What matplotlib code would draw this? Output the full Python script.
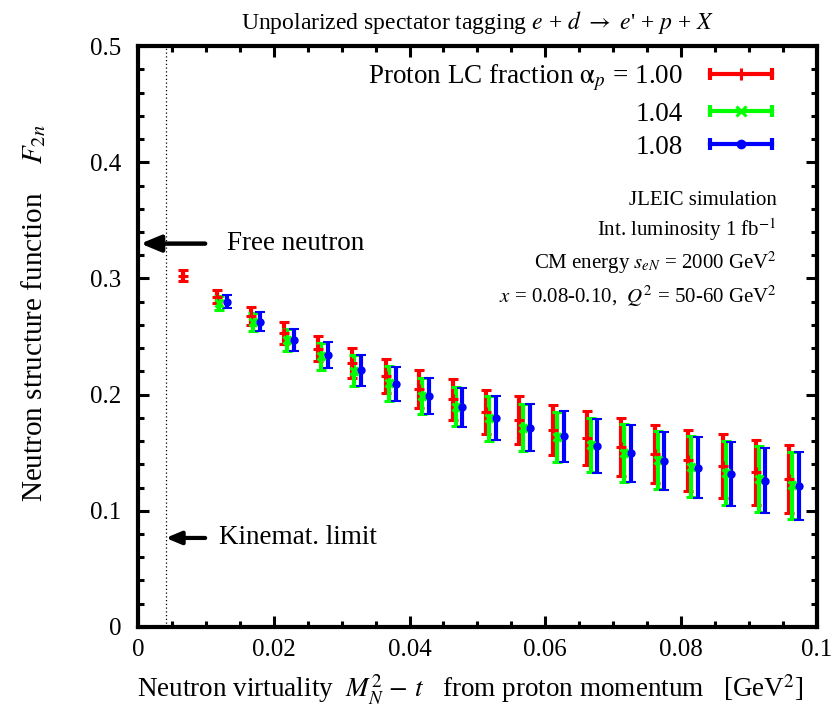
import matplotlib
matplotlib.use('Agg')
import matplotlib.pyplot as plt
from matplotlib.lines import Line2D
from matplotlib.legend_handler import HandlerLine2D
from matplotlib.ticker import MultipleLocator

plt.rcParams['font.family'] = ['Liberation Serif', 'DejaVu Serif']
plt.rcParams['mathtext.fontset'] = 'stix'

# data (F2n vs neutron virtuality), one set per alpha_p
red_x = [0.0067, 0.0117, 0.0166, 0.0215, 0.0265, 0.0316, 0.0365, 0.0414, 0.0464, 0.0512,
         0.0561, 0.0611, 0.0661, 0.0711, 0.0761, 0.0810, 0.0861, 0.0910, 0.0959]
red_y = [0.3025, 0.2843, 0.2678, 0.2530, 0.2397, 0.2272, 0.2160, 0.2048, 0.1960, 0.1853,
         0.1780, 0.1698, 0.1627, 0.1550, 0.1490, 0.1435, 0.1385, 0.1330, 0.1274]
red_e = [0.0045, 0.0055, 0.0076, 0.0093, 0.0108, 0.0129, 0.0143, 0.0163, 0.0175, 0.0190,
         0.0207, 0.0215, 0.0232, 0.0247, 0.0251, 0.0262, 0.0273, 0.0283, 0.0294]

green_x = [0.0120, 0.0170, 0.0220, 0.0270, 0.0318, 0.0370, 0.0419, 0.0468, 0.0517,
           0.0567, 0.0617, 0.0667, 0.0716, 0.0766, 0.0815, 0.0866, 0.0915, 0.0964]
green_y = [0.2788, 0.2625, 0.2470, 0.2330, 0.2207, 0.2096, 0.1988, 0.1896, 0.1795,
           0.1715, 0.1635, 0.1566, 0.1497, 0.1435, 0.1380, 0.1326, 0.1274, 0.1220]
green_e = [0.0057, 0.0079, 0.0098, 0.0115, 0.0133, 0.0148, 0.0159, 0.0169, 0.0192,
           0.0202, 0.0217, 0.0229, 0.0247, 0.0251, 0.0262, 0.0273, 0.0283, 0.0290]

blue_x = [0.0131, 0.0180, 0.0230, 0.0280, 0.0329, 0.0380, 0.0429, 0.0478, 0.0528,
          0.0577, 0.0627, 0.0676, 0.0726, 0.0775, 0.0825, 0.0874, 0.0924, 0.0973]
blue_y = [0.2800, 0.2628, 0.2470, 0.2340, 0.2210, 0.2090, 0.1988, 0.1890, 0.1797,
          0.1715, 0.1640, 0.1558, 0.1494, 0.1428, 0.1370, 0.1317, 0.1260, 0.1213]
blue_e = [0.0057, 0.0079, 0.0098, 0.0115, 0.0133, 0.0148, 0.0159, 0.0169, 0.0192,
          0.0202, 0.0217, 0.0229, 0.0247, 0.0251, 0.0262, 0.0273, 0.0283, 0.0290]

labels = [r'Proton LC fraction $\mathrm{\alpha}_p$ = 1.00', '1.04', '1.08']
x_ticks = [0, 0.02, 0.04, 0.06, 0.08, 0.1]
x_ticklabels = ['0', '0.02', '0.04', '0.06', '0.08', '0.1']
y_ticks = [0, 0.1, 0.2, 0.3, 0.4, 0.5]
y_ticklabels = ['0', '0.1', '0.2', '0.3', '0.4', '0.5']
free_neutron = 0.33
kin_limit = 0.0041

fig = plt.figure(figsize=(8.31, 7.1), dpi=100)
ax = fig.add_axes([0.166, 0.117, 0.817, 0.818])

series = [(red_x, red_y, red_e, '#ff0000', '+', 7, 2.2),
          (green_x, green_y, green_e, '#00ff00', 'x', 6, 2.2),
          (blue_x, blue_y, blue_e, '#0000ff', 'o', 4.5, 1.5)]

handles = []
hmap = {}
for xs, ys, es, c, m, ms, mw in series:
    ax.errorbar(xs, ys, yerr=es, fmt=m, color=c, ms=ms, mew=mw,
                elinewidth=3.0, capsize=3.6, capthick=3.0)
    caps = Line2D([], [], color=c, lw=3.0, marker='|', ms=8, mew=3.0)
    mid = Line2D([], [], color=c, ls='none', marker=m, ms=ms + 1, mew=mw)
    hmap[caps] = HandlerLine2D(numpoints=2)
    hmap[mid] = HandlerLine2D(numpoints=1)
    handles.append((caps, mid))

ax.axvline(kin_limit, color='k', lw=0.9, ls=(0, (1, 2)))

ax.set_xlim(0, 0.1)
ax.set_ylim(0, 0.5)
ax.set_xticks(x_ticks)
ax.set_xticklabels(x_ticklabels)
ax.set_yticks(y_ticks)
ax.set_yticklabels(y_ticklabels)
ax.xaxis.set_minor_locator(MultipleLocator(0.005))
ax.yaxis.set_minor_locator(MultipleLocator(0.02))
ax.tick_params(which='both', direction='in', top=True, right=True, width=2.2)
ax.tick_params(which='major', length=8, labelsize=18)
ax.tick_params(which='minor', length=4)
ax.tick_params(axis='x', pad=9)
ax.tick_params(axis='y', pad=12)
for sp in ax.spines.values():
    sp.set_linewidth(3)

ax.set_title(r"Unpolarized spectator tagging $e$ + $d$ $\rightarrow$ $e$' + $p$ + $X$",
             fontsize=17, pad=12)
ax.set_ylabel(r'Neutron structure function    $F_{2n}$', fontsize=21)
ax.yaxis.set_label_coords(-0.133, 0.54)
ax.set_xlabel(r'Neutron virtuality  $M_N^2$ $-$ $t$   from proton momentum   [GeV$^2$]',
              fontsize=19.5)
ax.xaxis.set_label_coords(0.49, -0.08)

ax.legend(handles, labels, handler_map=hmap, loc='upper right',
          bbox_to_anchor=(0.946, 0.971), frameon=False, markerfirst=False,
          fontsize=19.5, handlelength=2.9, handletextpad=0.7, labelspacing=0.3,
          borderpad=0, borderaxespad=0)

ax.annotate('', xy=(0.0004, free_neutron), xytext=(0.0099, free_neutron),
            arrowprops=dict(arrowstyle='-|>,head_length=1.2,head_width=0.5',
                            lw=3.2, color='k', shrinkA=0, shrinkB=0, mutation_scale=10))
ax.text(0.0131, free_neutron, 'Free neutron', fontsize=19.5, va='center')
ax.annotate('', xy=(kin_limit, 0.0766), xytext=(0.0099, 0.0766),
            arrowprops=dict(arrowstyle='-|>,head_length=0.9,head_width=0.38',
                            lw=3.0, color='k', shrinkA=0, shrinkB=0, mutation_scale=10))
ax.text(0.012, 0.0766, 'Kinemat. limit', fontsize=19.5, va='center')

info = ['JLEIC simulation', r'Int. luminosity 1 fb$^{-1}$',
        r'CM energy $s_{eN}$ = 2000 GeV$^2$',
        r'$x$ = 0.08-0.10,  $Q^2$ = 50-60 GeV$^2$']
info_y = [0.3675, 0.3417, 0.3133, 0.2850]
for t, yy in zip(info, info_y):
    ax.text(0.0941, yy, t, fontsize=15, ha='right', va='center')

fig.savefig('out.png', dpi=100)
